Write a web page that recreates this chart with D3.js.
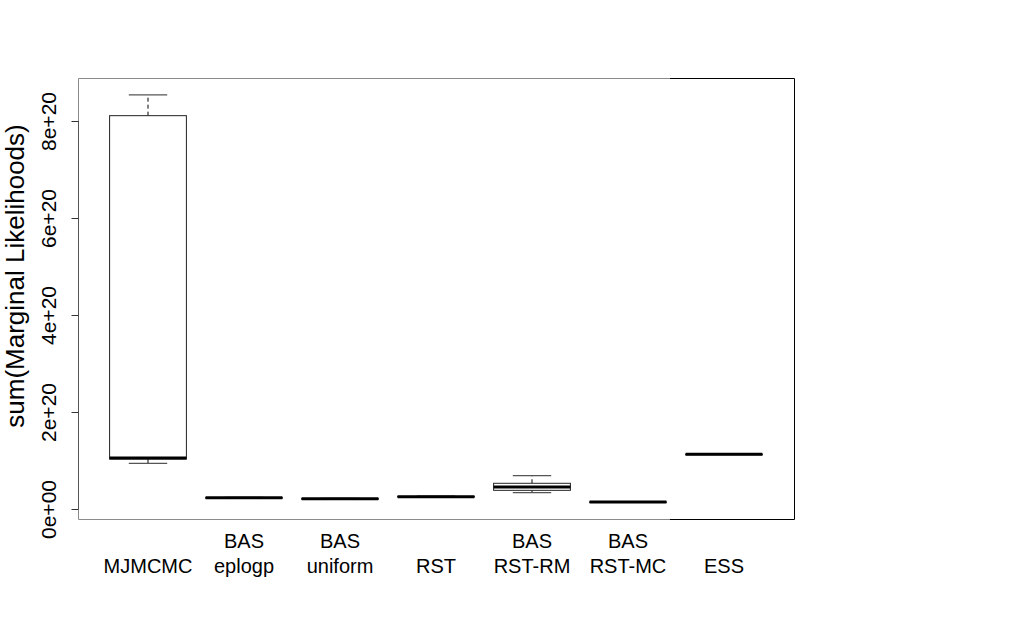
<!DOCTYPE html>
<html><head><meta charset="utf-8">
<script src="https://cdn.jsdelivr.net/npm/d3@7"></script>
<style>body{margin:0;background:#fff}svg{display:block}text{font-family:"Liberation Sans",Arial,sans-serif;fill:#000}</style>
</head><body>
<script>
// Data (values in units of 1e20)
const categoryLine1 = ["", "BAS", "BAS", "", "BAS", "BAS", ""];
const categoryLine2 = ["MJMCMC", "eplogp", "uniform", "RST", "RST-RM", "RST-MC", "ESS"];
const lowerWhisker = [0.94, 0.22, 0.20, 0.245, 0.336, 0.140, 1.125];
const quartile1    = [1.03, 0.225, 0.205, 0.25, 0.385, 0.142, 1.127];
const medians      = [1.05, 0.23, 0.21, 0.255, 0.454, 0.144, 1.128];
const quartile3    = [8.11, 0.235, 0.215, 0.26, 0.53, 0.146, 1.129];
const upperWhisker = [8.54, 0.24, 0.22, 0.265, 0.687, 0.148, 1.13];
const yTicks = [0, 2, 4, 6, 8];
const yTickLabels = ["0e+00", "2e+20", "4e+20", "6e+20", "8e+20"];
const yTitle = "sum(Marginal Likelihoods)";

const W = 1035, H = 617;
const plot = {left: 78, right: 794, top: 78, bottom: 519};
const svg = d3.select("body").append("svg").attr("width", W).attr("height", H);

const x = d3.scaleLinear().domain([1, 7]).range([148, 724]);
const y = d3.scaleLinear().domain([0, 8]).range([509, 121]);
const unit = x(2) - x(1);
const boxHalf = 0.4 * unit, capHalf = 0.2 * unit;

// frame: grey part and black part
const splitX = 670;
const frame = svg.append("g").attr("fill", "none");
frame.append("path").attr("stroke", "#8a8a8a").attr("stroke-width", 1)
  .attr("d", `M${splitX},${plot.top + 0.5}H${plot.left + 0.5}V${plot.bottom + 0.5}H${splitX}`);
frame.append("path").attr("stroke", "#000").attr("stroke-width", 1)
  .attr("d", `M${splitX},${plot.top + 0.5}H${plot.right + 0.5}V${plot.bottom + 0.5}H${splitX}`);

// y axis
const yAxis = svg.append("g").attr("transform", `translate(${plot.left + 0.5},0)`)
  .call(d3.axisLeft(y).tickValues(yTicks).tickSize(7).tickFormat((d, i) => yTickLabels[i]));
yAxis.select(".domain").attr("stroke", "#555").attr("d", `M0,${y(0)}V${y(8)}`);
yAxis.selectAll(".tick line").attr("stroke", "#333");
yAxis.selectAll(".tick text")
  .attr("font-size", 21).attr("font-family", "Liberation Sans, Arial, sans-serif")
  .attr("transform", "rotate(-90)").attr("x", 0).attr("y", -23)
  .attr("dy", 0).attr("text-anchor", "middle").attr("fill", "#000");

svg.append("text").attr("transform", `translate(24,276) rotate(-90)`)
  .attr("text-anchor", "middle").attr("font-size", 26).text(yTitle);

// boxes
const idx = d3.range(categoryLine2.length);
const g = svg.append("g");
idx.forEach(i => {
  const cx = x(i + 1);
  const gg = g.append("g");
  // whiskers (dashed)
  gg.append("line").attr("x1", cx).attr("x2", cx)
    .attr("y1", y(quartile3[i])).attr("y2", y(upperWhisker[i]))
    .attr("stroke", "#000").attr("stroke-dasharray", "4,3");
  gg.append("line").attr("x1", cx).attr("x2", cx)
    .attr("y1", y(quartile1[i])).attr("y2", y(lowerWhisker[i]))
    .attr("stroke", "#000").attr("stroke-dasharray", "4,3");
  // caps
  [upperWhisker[i], lowerWhisker[i]].forEach(v => {
    gg.append("line").attr("x1", cx - capHalf).attr("x2", cx + capHalf)
      .attr("y1", y(v)).attr("y2", y(v)).attr("stroke", "#555").attr("stroke-width", 1.2);
  });
  // box
  gg.append("rect").attr("x", cx - boxHalf).attr("width", 2 * boxHalf)
    .attr("y", y(quartile3[i])).attr("height", Math.max(0.5, y(quartile1[i]) - y(quartile3[i])))
    .attr("fill", "#fff").attr("stroke", "#222").attr("stroke-width", 1);
  // median
  gg.append("line").attr("x1", cx - boxHalf).attr("x2", cx + boxHalf)
    .attr("y1", y(medians[i])).attr("y2", y(medians[i]))
    .attr("stroke", "#000").attr("stroke-width", 3);
});

// category labels
const labels = svg.append("g").attr("font-size", 20).attr("text-anchor", "middle");
idx.forEach(i => {
  labels.append("text").attr("x", x(i + 1)).attr("y", 548).text(categoryLine1[i]);
  labels.append("text").attr("x", x(i + 1)).attr("y", 573).text(categoryLine2[i]);
});
</script>
</body></html>
